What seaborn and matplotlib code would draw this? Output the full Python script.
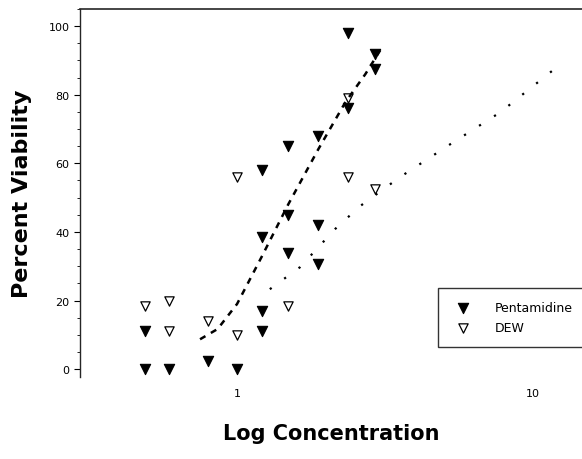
import numpy as np
import pandas as pd
import matplotlib
matplotlib.use("Agg")
import matplotlib.pyplot as plt
import seaborn as sns
from matplotlib.ticker import MultipleLocator, FixedLocator, NullLocator

# replicate points
pent_conc = [0.49, 0.49, 0.59, 0.80, 1.0, 1.21, 1.21, 1.21, 1.21, 1.49, 1.49, 1.49,
             1.88, 1.88, 1.88, 2.37, 2.37, 2.93, 2.93]
pent_viab = [11, 0, 0, 2.3, 0, 58, 38.5, 17, 11, 65, 45, 34,
             68, 42, 30.6, 98, 76, 92, 87.5]

dew_conc = [0.49, 0.59, 0.59, 0.80, 1.0, 1.0, 1.49, 2.37, 2.37, 2.93]
dew_viab = [18.4, 19.8, 11, 14, 10, 56, 18.4, 56, 79, 52.5]

# fitted curves
pent_fit_conc = [0.75, 0.86, 1.0, 1.21, 1.49, 1.88, 2.32, 2.71, 3.09]
pent_fit_viab = [8.7, 11.7, 19, 32.7, 48.1, 64.1, 77.8, 86, 93.9]

dew_fit_conc = [1.29, 1.63, 2.14, 2.60, 3.55, 5.25, 7.74, 12.6]
dew_fit_viab = [23.3, 29.7, 40.8, 47.5, 56, 65.6, 74.9, 89.5]

sns.set_style("ticks")
plt.rcParams["font.family"] = ["DejaVu Sans"]
plt.rcParams["text.color"] = "black"
plt.rcParams["axes.labelcolor"] = "black"
plt.rcParams["xtick.color"] = "black"
plt.rcParams["ytick.color"] = "black"

fig = plt.figure(figsize=(5.82, 4.6), dpi=100)
ax = fig.add_axes([80 / 582, 1 - 378 / 460, 502 / 582, 368 / 460])

pent = pd.DataFrame({"conc": pent_conc, "viab": pent_viab})
dew = pd.DataFrame({"conc": dew_conc, "viab": dew_viab})
pent_fit = pd.DataFrame({"conc": pent_fit_conc, "viab": pent_fit_viab})
dew_fit = pd.DataFrame({"conc": dew_fit_conc, "viab": dew_fit_viab})

sns.lineplot(data=pent_fit, x="conc", y="viab", color="black", lw=1.8,
             ax=ax, legend=False)
ax.lines[-1].set_dashes((2.5, 2.5))
sns.lineplot(data=dew_fit, x="conc", y="viab", color="black", lw=1.6,
             ax=ax, legend=False)
ax.lines[-1].set_dashes((1, 7))

sns.scatterplot(data=pent, x="conc", y="viab", marker="v", s=55, color="black",
                edgecolor="black", linewidth=0.8, ax=ax, label="Pentamidine")
sns.scatterplot(data=dew, x="conc", y="viab", marker="v", s=45, facecolor="white",
                edgecolor="black", linewidth=0.9, ax=ax, label="DEW")

ax.set_xscale("log")
ax.set_xlim(0.295, 14.6)
ax.set_ylim(-2.3, 105)
ax.xaxis.set_major_locator(FixedLocator([1, 10]))
ax.xaxis.set_minor_locator(NullLocator())
ax.set_xticklabels(["1", "10"])
ax.yaxis.set_major_locator(MultipleLocator(20))
ax.yaxis.set_minor_locator(MultipleLocator(5))
ax.tick_params(axis="both", labelsize=8, length=4, width=0.8)
ax.tick_params(axis="x", length=0, pad=8)
ax.tick_params(axis="y", which="minor", length=2)

for s in ["right", "bottom"]:
    ax.spines[s].set_visible(False)
ax.spines["top"].set_linewidth(1.2)
ax.spines["left"].set_linewidth(1.0)

ax.set_xlabel("Log Concentration", fontsize=15, fontweight="bold", labelpad=18)
ax.set_ylabel("Percent Viability", fontsize=16, fontweight="bold")
ax.yaxis.set_label_coords(-0.095, 0.5)

ax.legend(loc="upper left", bbox_to_anchor=(0.70, 0.258), frameon=True,
          fancybox=False, edgecolor="black", fontsize=9, borderpad=1.0,
          handletextpad=1.6, labelspacing=0.6)

fig.savefig("out.png", dpi=100)
